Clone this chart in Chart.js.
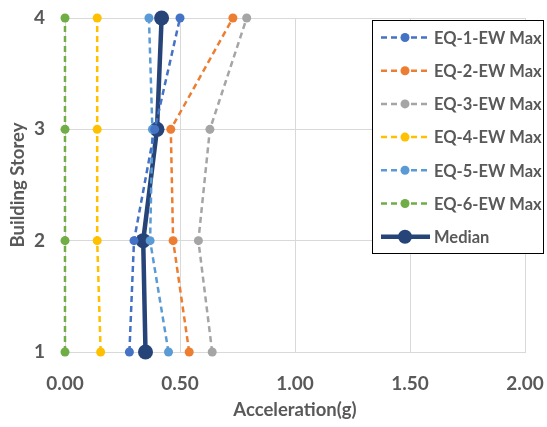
<!DOCTYPE html>
<html>
<head>
<meta charset="utf-8">
<script src="https://cdn.jsdelivr.net/npm/chart.js@4.4.1/dist/chart.umd.min.js"></script>
<style>
  html,body{margin:0;padding:0;background:#fff;}
  #wrap{width:547px;height:427px;position:relative;}
</style>
</head>
<body>
<div id="wrap"><canvas id="grafico" width="547" height="427"></canvas></div>
<script>
// pisos del edificio
const storeys = [1, 2, 3, 4]
// aceleraciones maximas (g) por sismo, de piso 1 a piso 4
const eq1 = [0.28, 0.30, 0.39, 0.50]
const eq2 = [0.54, 0.47, 0.46, 0.73]
const eq3 = [0.64, 0.58, 0.63, 0.79]
const eq4 = [0.155, 0.14, 0.14, 0.14]
const eq5 = [0.45, 0.37, 0.38, 0.365]
const eq6 = [0.00, 0.00, 0.00, 0.00]
const median = [0.35, 0.34, 0.40, 0.42]
const xTicks = [0, 0.5, 1, 1.5, 2]

const gris = '#595959'
const fuente = 'Lato, "Liberation Sans", sans-serif'

const puntos = (vals) => vals.map((v, i) => ({x: v, y: storeys[i]}))

const serie = (label, vals, color) => ({
    label: label,
    data: puntos(vals),
    showLine: true,
    borderColor: color,
    backgroundColor: color,
    borderWidth: 2.5,
    borderDash: [6, 4],
    pointRadius: 4.5,
    pointBorderWidth: 0,
    pointHoverRadius: 4.5,
    clip: false
})

const datasets = [
    serie('EQ-1-EW Max', eq1, '#4472C4'),
    serie('EQ-2-EW Max', eq2, '#ED7D31'),
    serie('EQ-3-EW Max', eq3, '#A5A5A5'),
    serie('EQ-4-EW Max', eq4, '#FFC000'),
    serie('EQ-5-EW Max', eq5, '#5B9BD5'),
    serie('EQ-6-EW Max', eq6, '#70AD47'),
    {
        label: 'Median',
        data: puntos(median),
        showLine: true,
        borderColor: '#264478',
        backgroundColor: '#264478',
        borderWidth: 4.5,
        pointRadius: 7.5,
        pointBorderWidth: 0,
        pointHoverRadius: 7.5,
        clip: false
    }
]

// leyenda dibujada dentro del area del grafico, como en excel
const leyendaCaja = {
    id: 'leyendaCaja',
    afterDraw(chart) {
        const ctx = chart.ctx
        const x0 = 372, y0 = 20, w = 171, h = 233
        ctx.save()
        ctx.fillStyle = '#fff'
        ctx.fillRect(x0, y0, w, h)
        ctx.strokeStyle = '#000'
        ctx.lineWidth = 1
        ctx.strokeRect(x0 + 0.5, y0 + 0.5, w, h)
        chart.data.datasets.forEach((ds, i) => {
            const y = 37.5 + i * 33.2
            ctx.strokeStyle = ds.borderColor
            ctx.lineWidth = ds.borderDash ? 2.5 : 4.5
            ctx.setLineDash(ds.borderDash || [])
            ctx.beginPath()
            ctx.moveTo(381, y)
            ctx.lineTo(430, y)
            ctx.stroke()
            ctx.setLineDash([])
            ctx.fillStyle = ds.backgroundColor
            ctx.beginPath()
            ctx.arc(405, y, ds.borderDash ? 4.5 : 7, 0, Math.PI * 2)
            ctx.fill()
            ctx.fillStyle = gris
            ctx.font = 'bold 16.5px ' + fuente
            ctx.textBaseline = 'middle'
            ctx.textAlign = 'left'
            ctx.fillText(ds.label, 434, y + 1)
        })
        ctx.restore()
    }
}

const graf = document.getElementById('grafico').getContext('2d')
const chart = new Chart(graf, {
    type: 'scatter',
    data: {datasets: datasets},
    options: {
        responsive: false,
        animation: false,
        devicePixelRatio: 1,
        layout: {padding: {top: 18, right: 22, left: 0, bottom: 0}, autoPadding: false},
        plugins: {legend: {display: false}, tooltip: {enabled: false}},
        scales: {
            x: {
                type: 'linear',
                min: 0, max: 2,
                afterBuildTicks: (s) => { s.ticks = xTicks.map(v => ({value: v})) },
                afterFit: (s) => { s.height = 75; s.paddingLeft = 0; s.paddingRight = 0 },
                grid: {color: '#D9D9D9', lineWidth: 1, drawTicks: false},
                border: {color: '#D9D9D9'},
                ticks: {
                    color: gris,
                    padding: 20,
                    font: {family: fuente, size: 19, weight: 'bold'},
                    callback: (v) => Number(v).toFixed(2)
                },
                title: {
                    display: true,
                    text: 'Acceleration(g)',
                    color: gris,
                    font: {family: fuente, size: 18.5, weight: 'bold'},
                    padding: {top: 8, bottom: 6}
                }
            },
            y: {
                type: 'linear',
                min: 1, max: 4,
                afterBuildTicks: (s) => { s.ticks = storeys.map(v => ({value: v})) },
                afterFit: (s) => { s.width = 65; s.paddingTop = 0; s.paddingBottom = 0 },
                grid: {color: '#D9D9D9', lineWidth: 1, drawTicks: false},
                border: {color: '#D9D9D9'},
                ticks: {
                    color: gris,
                    padding: 20,
                    font: {family: fuente, size: 19, weight: 'bold'}
                },
                title: {
                    display: true,
                    text: 'Building Storey',
                    color: gris,
                    font: {family: fuente, size: 18.5, weight: 'bold'},
                    padding: {top: 7, bottom: 4}
                }
            }
        }
    },
    plugins: [leyendaCaja]
})
</script>
</body>
</html>
